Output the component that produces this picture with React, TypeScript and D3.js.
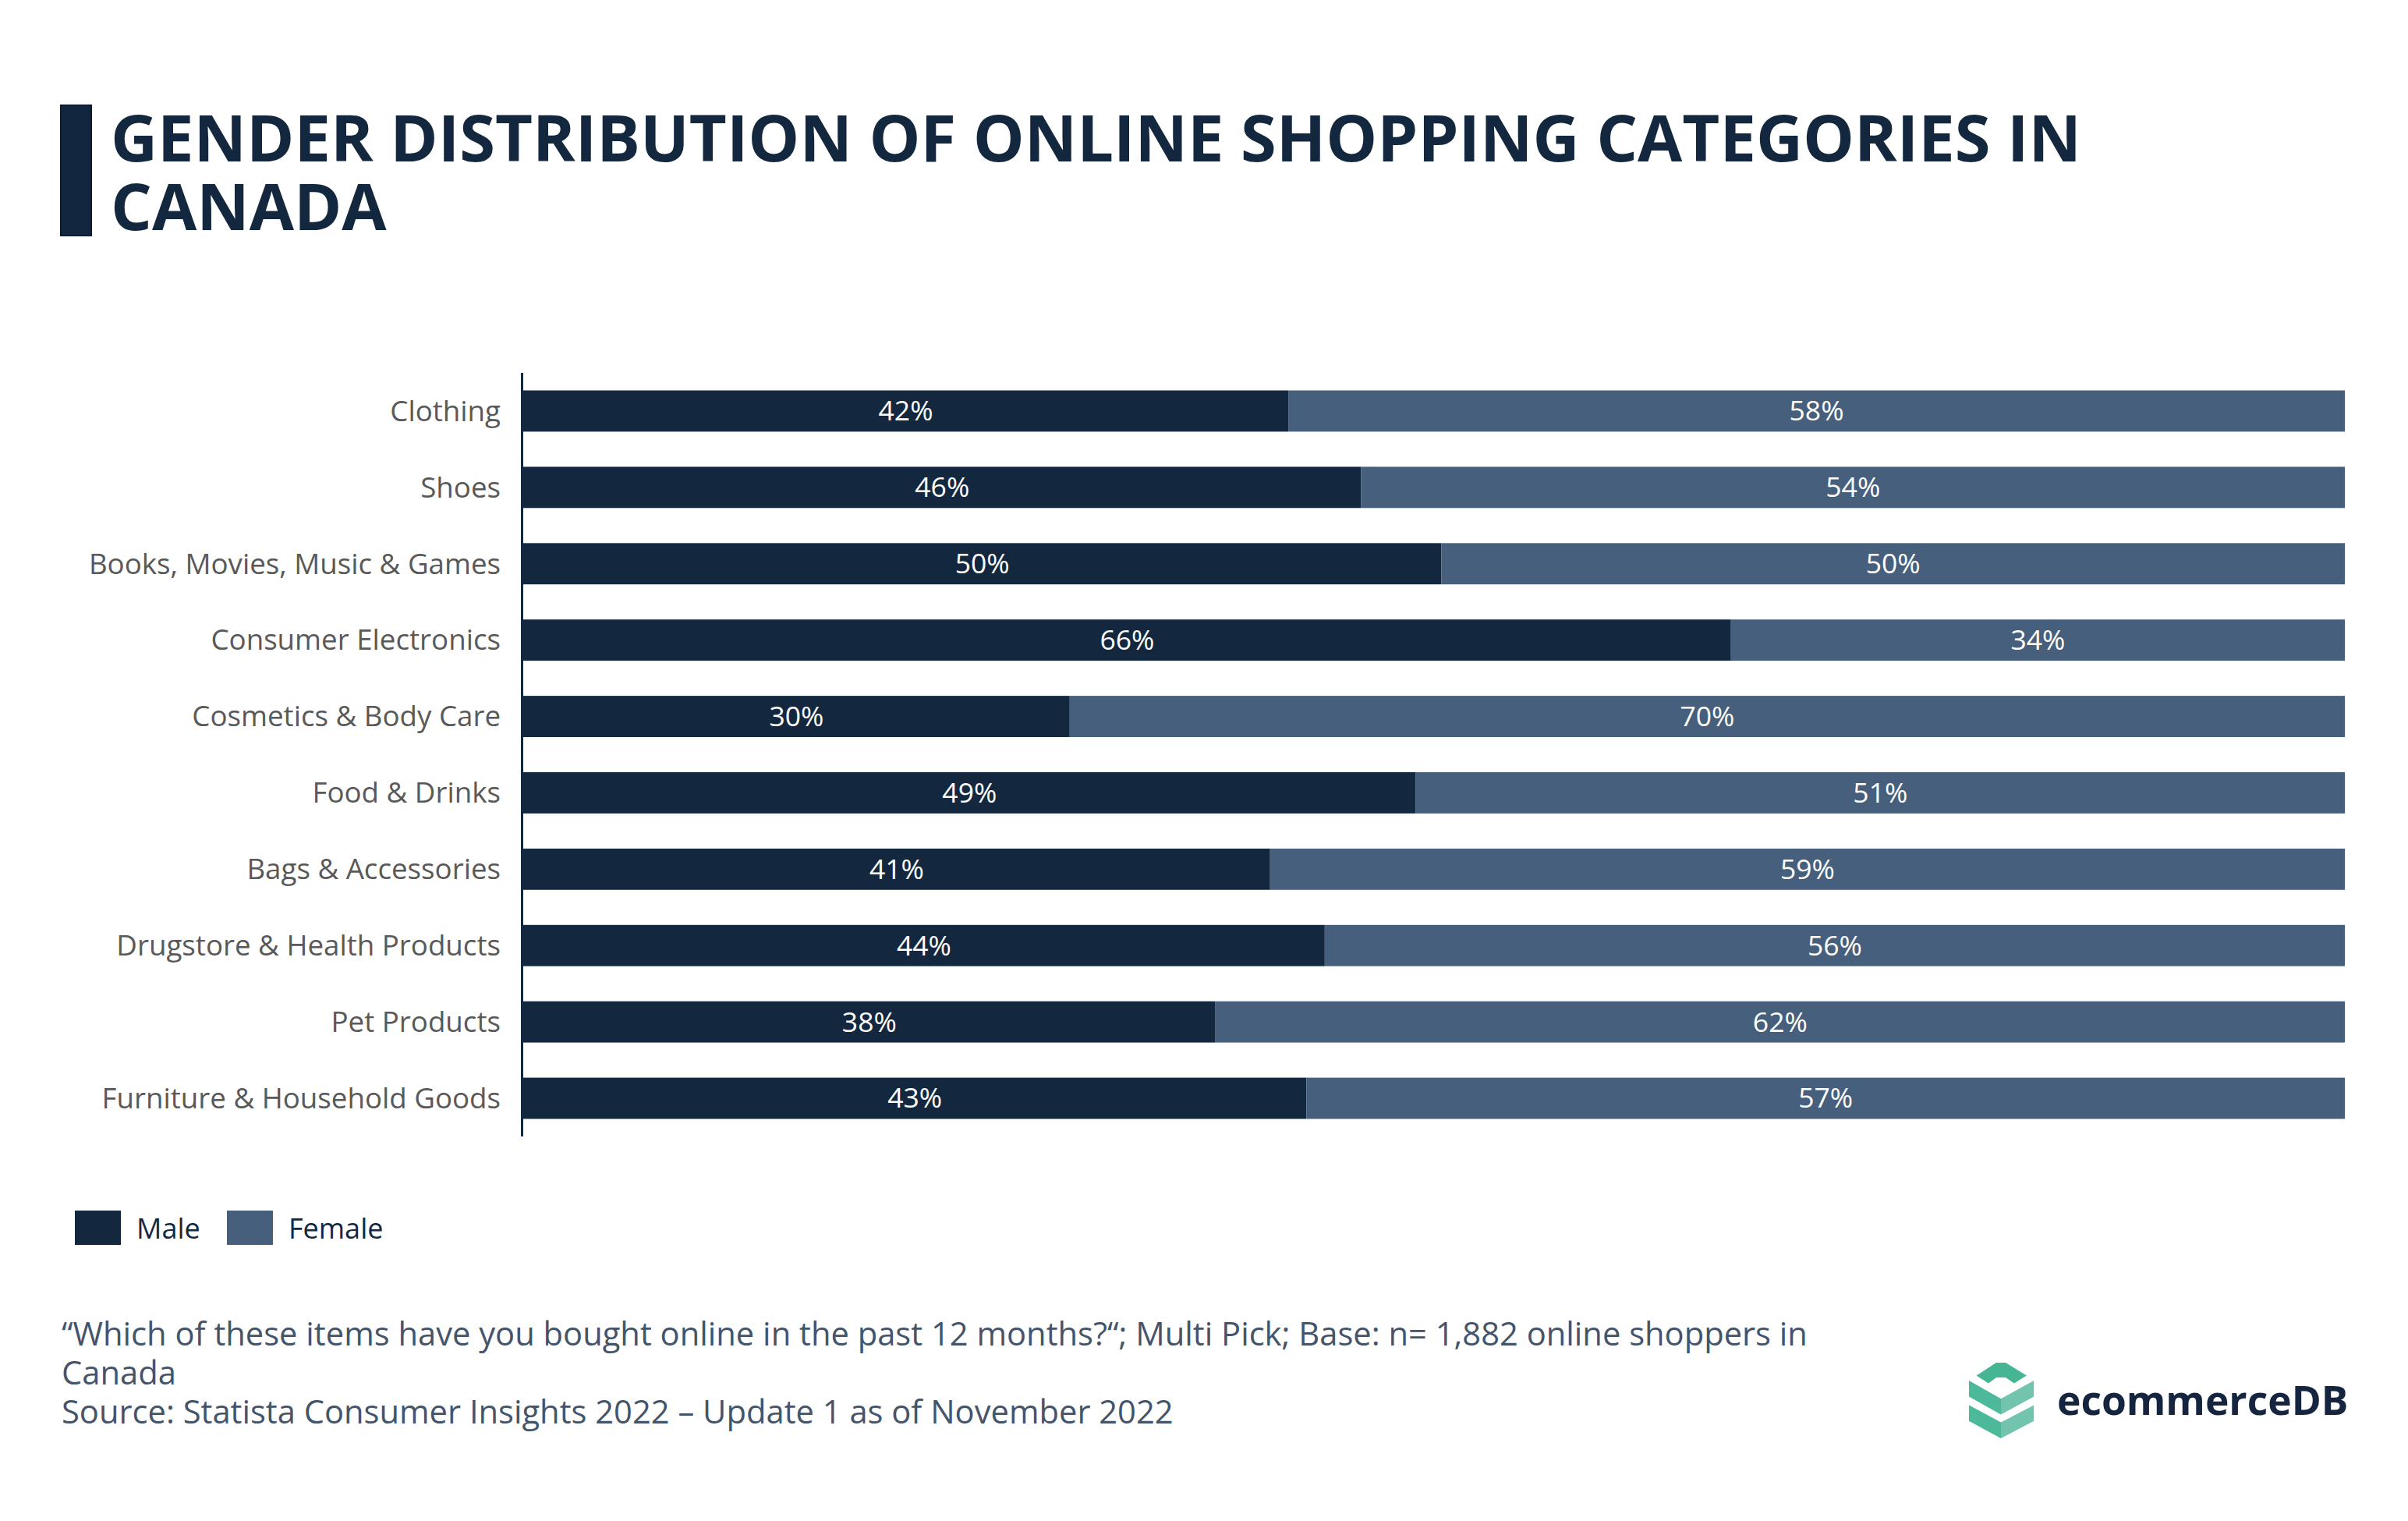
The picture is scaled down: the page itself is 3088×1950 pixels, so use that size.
import React from "react";
import * as d3 from "d3";

const categories = [
  "Clothing",
  "Shoes",
  "Books, Movies, Music & Games",
  "Consumer Electronics",
  "Cosmetics & Body Care",
  "Food & Drinks",
  "Bags & Accessories",
  "Drugstore & Health Products",
  "Pet Products",
  "Furniture & Household Goods",
];
// bar lengths (labels are shown rounded)
const maleValues = [42, 46, 50.4, 66.3, 30, 49, 41, 44, 38, 43];
const femaleValues = [58, 54, 49.6, 33.7, 70, 51, 59, 56, 62, 57];
const seriesNames = ["Male", "Female"];

const titleLines = ["GENDER DISTRIBUTION OF ONLINE SHOPPING CATEGORIES IN", "CANADA"];
const footLines = [
  "\u201CWhich of these items have you bought online in the past 12 months?\u201C; Multi Pick; Base: n= 1,882 online shoppers in",
  "Canada",
  "Source: Statista Consumer Insights 2022 \u2013 Update 1 as of November 2022",
];

const W = 3088;
const H = 1950;
const MALE = "#13283f";
const FEMALE = "#465f7c";
const NAVY = "#13283f";
const FONT = "'Open Sans', 'Noto Sans', sans-serif";

export default function App() {
  const x = d3.scaleLinear().domain([0, 100]).range([671, 3007]);
  const y = d3.scaleBand<string>().domain(categories).range([478, 1457]).paddingInner(0.46).paddingOuter(0.23);
  const bw = y.bandwidth();

  const rows = categories.map((c, i) => {
    const stack = [maleValues[i], femaleValues[i]];
    let acc = 0;
    const segs = stack.map((v, k) => {
      const s = { x0: acc, x1: acc + v, v, k };
      acc += v;
      return s;
    });
    return { c, segs };
  });

  return (
    <svg
      width={W}
      height={H}
      viewBox={`0 0 ${W} ${H}`}
      style={{ position: "absolute", left: 0, top: 0, display: "block", background: "#fff" }}
      fontFamily={FONT}
    >
      <rect x={0} y={0} width={W} height={H} fill="#ffffff" />
      {/* title */}
      <rect x={78} y={135} width={39} height={167} fill="#13263f" stroke="#0b1b30" strokeWidth={2} />
      <text x={142} y={207} fontSize={83} fontWeight={700} fill={NAVY}>
        {titleLines.map((t, i) => (
          <tspan key={i} x={142} dy={i === 0 ? 0 : 88}>
            {t}
          </tspan>
        ))}
      </text>

      {/* bars */}
      {rows.map((r) => (
        <g key={r.c}>
          <text
            x={642}
            y={(y(r.c) as number) + bw / 2}
            dy="0.35em"
            textAnchor="end"
            fontSize={36.7}
            fill="#595959"
          >
            {r.c}
          </text>
          {r.segs.map((s) => (
            <g key={s.k}>
              <rect
                x={x(s.x0)}
                y={y(r.c)}
                width={x(s.x1) - x(s.x0)}
                height={bw}
                fill={s.k === 0 ? MALE : FEMALE}
              />
              <text
                x={(x(s.x0) + x(s.x1)) / 2}
                y={(y(r.c) as number) + bw / 2}
                dy="0.35em"
                textAnchor="middle"
                fontSize={35.5}
                fill="#ffffff"
              >
                {Math.round(s.v)}%
              </text>
            </g>
          ))}
        </g>
      ))}
      <line x1={669.5} x2={669.5} y1={478} y2={1457} stroke={NAVY} strokeWidth={3} />

      {/* legend */}
      {seriesNames.map((n, i) => (
        <g key={n} transform={`translate(${96 + i * 195},1552)`}>
          <rect x={0} y={0} width={59} height={44} fill={i === 0 ? MALE : FEMALE} />
          <text x={79} y={23} dy="0.35em" fontSize={36} fill={NAVY}>
            {n}
          </text>
        </g>
      ))}

      {/* footnote */}
      <text x={79} y={1725} fontSize={41.7} fill="#44546a">
        {footLines.map((t, i) => (
          <tspan key={i} x={79} dy={i === 0 ? 0 : 50}>
            {t}
          </tspan>
        ))}
      </text>

      {/* logo */}
      <g>
        <polygon points="2534.6,1763.6 2560,1747 2572,1747 2598.9,1763.6 2582.9,1773.6 2572,1766 2560,1766 2550,1773.6" fill="#46b593" />
        <polygon points="2525,1770 2566,1793.2 2566,1813.6 2525,1790.4" fill="#4cb99a" />
        <polygon points="2566,1793.2 2608.2,1770 2608.2,1790.4 2566,1813.6" fill="#72c4ae" />
        <polygon points="2525,1801.4 2566,1823.6 2566,1844 2525,1821.8" fill="#4cb99a" />
        <polygon points="2566,1823.6 2608.2,1801.4 2608.2,1821.8 2566,1844" fill="#72c4ae" />
        <text x={2638} y={1814} fontSize={51.5} fontWeight={700} fill="#15253f">
          ecommerceDB
        </text>
      </g>
    </svg>
  );
}
